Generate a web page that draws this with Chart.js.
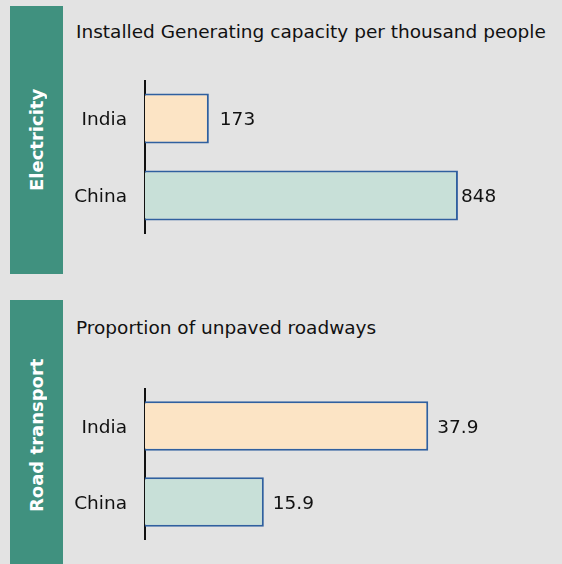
<!DOCTYPE html>
<html>
<head>
<meta charset="utf-8">
<script src="https://cdn.jsdelivr.net/npm/chart.js@4"></script>
<style>
  body { margin: 0; background: #e3e3e3; width: 562px; height: 564px; overflow: hidden; position: relative; font-family: "DejaVu Sans", sans-serif; }
  .band { position: absolute; left: 10px; width: 53px; background: #40917f; }
  .band span { position: absolute; left: 0; top: 0; width: 53px; height: 100%; display: flex; align-items: center; justify-content: center; writing-mode: vertical-rl; transform: rotate(180deg); color: #fff; font-weight: bold; font-size: 18px; }
  .title { position: absolute; left: 76px; font-size: 18.5px; color: #111; white-space: nowrap; }
  .chartbox { position: absolute; left: 64px; }
</style>
</head>
<body>
<div class="band" style="top:6px;height:268px"><span>Electricity</span></div>
<div class="band" style="top:300px;height:270px"><span>Road transport</span></div>
<div class="title" style="top:21px">Installed Generating capacity per thousand people</div>
<div class="title" style="top:317px">Proportion of unpaved roadways</div>
<div class="chartbox" style="top:80px"><canvas id="elec" width="498" height="154"></canvas></div>
<div class="chartbox" style="top:388px"><canvas id="road" width="498" height="152"></canvas></div>
<script>
const countries = ["India", "China"];
const capacityValues = [173, 848];
const unpavedValues = [37.9, 15.9];
const barColors = ["#fce4c5", "#c8e0d8"];

// value labels next to each bar
const valueLabels = {
  id: "valueLabels",
  afterDatasetsDraw(chart, args, opts) {
    const ctx = chart.ctx;
    const meta = chart.getDatasetMeta(0);
    ctx.save();
    ctx.font = "18.5px 'DejaVu Sans'";
    ctx.fillStyle = "#111";
    ctx.textBaseline = "middle";
    meta.data.forEach((bar, i) => {
      ctx.fillText(String(chart.data.datasets[0].data[i]), bar.x + opts.gaps[i], bar.y + 2);
    });
    ctx.restore();
  }
};

function makeChart(id, values, max, gaps) {
  const ctx = document.getElementById(id).getContext("2d");
  return new Chart(ctx, {
    type: "bar",
    data: {
      labels: countries,
      datasets: [{
        data: values,
        backgroundColor: barColors,
        borderColor: "#30609f",
        borderWidth: 2,
        borderSkipped: "left",
        categoryPercentage: 1,
        barPercentage: 0.65
      }]
    },
    options: {
      indexAxis: "y",
      responsive: false,
      animation: false,
      layout: { padding: 0 },
      plugins: {
        legend: { display: false },
        tooltip: { enabled: false },
        valueLabels: { gaps: gaps }
      },
      scales: {
        x: { display: false, min: 0, max: max },
        y: {
          grid: { display: false, drawTicks: false },
          border: { display: true, color: "#111", width: 2 },
          ticks: { color: "#111", font: { family: "DejaVu Sans", size: 18.5 }, padding: 18, labelOffset: 2 },
          afterFit: (s) => { s.width = 81; s.paddingTop = 0; s.paddingBottom = 0; }
        }
      }
    },
    plugins: [valueLabels]
  });
}

makeChart("elec", capacityValues, 1130, [11, 3]);
makeChart("road", unpavedValues, 55.8, [9, 9]);
</script>
</body>
</html>
